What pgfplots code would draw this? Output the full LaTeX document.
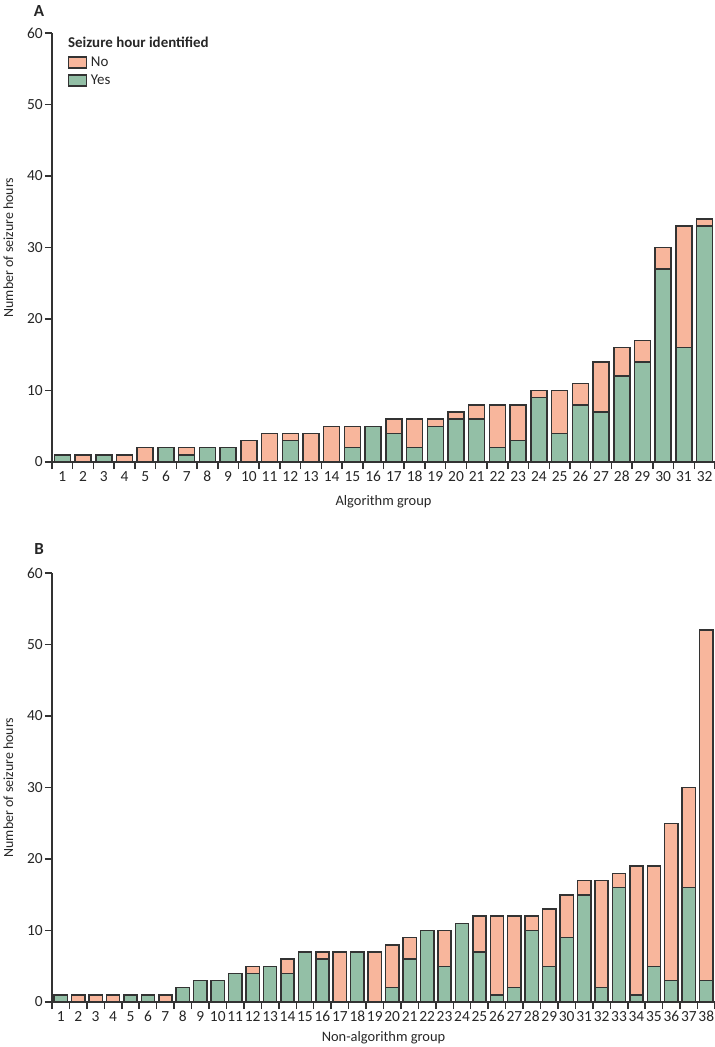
\documentclass[border=0pt]{standalone}
\usepackage{fontspec}
\setmainfont{Carlito}
\usepackage{pgfplots}
\pgfplotsset{compat=1.18}
\usepackage{pgfplotstable}
\definecolor{nocol}{HTML}{F8B69C}
\definecolor{yescol}{HTML}{93BFA6}
\definecolor{edge}{HTML}{333333}

\pgfplotstableread{
x yes no
1 1 0
2 0 1
3 1 0
4 0 1
5 0 2
6 2 0
7 1 1
8 2 0
9 2 0
10 0 3
11 0 4
12 3 1
13 0 4
14 0 5
15 2 3
16 5 0
17 4 2
18 2 4
19 5 1
20 6 1
21 6 2
22 2 6
23 3 5
24 9 1
25 4 6
26 8 3
27 7 7
28 12 4
29 14 3
30 27 3
31 16 17
32 33 1
}\dataA

\pgfplotstableread{
x yes no
1 1 0
2 0 1
3 0 1
4 0 1
5 1 0
6 1 0
7 0 1
8 2 0
9 3 0
10 3 0
11 4 0
12 4 1
13 5 0
14 4 2
15 7 0
16 6 1
17 0 7
18 7 0
19 0 7
20 2 6
21 6 3
22 10 0
23 5 5
24 11 0
25 7 5
26 1 11
27 2 10
28 10 2
29 5 8
30 9 6
31 15 2
32 2 15
33 16 2
34 1 18
35 5 14
36 3 22
37 16 14
38 3 49
}\dataB

\pgfplotsset{
  panel/.style={
    scale only axis, width=663bp, height=429bp,
    ymin=0, ymax=60, ytick={0,10,...,60},
    axis lines*=left,
    axis line style={edge, line width=2bp},
    tick style={edge, line width=1.5bp},
    tick align=outside, major tick length=7bp,
    ybar stacked,
    /pgf/number format/assume math mode=true,
    ticklabel style={font=\fontsize{15.5}{15.5}\selectfont, text=black!85},
    xticklabel style={inner sep=0pt, yshift=-2bp},
    yticklabel style={inner sep=2bp},
    clip=false,
    xlabel style={at={(axis description cs:0.5,0)}, anchor=center, font=\fontsize{14.5}{14.5}\selectfont, text=black!85},
    ylabel style={at={(axis description cs:-0.066,0.5)}, anchor=center, font=\fontsize{14}{14}\selectfont, text=black!85},
    ylabel={Number of seizure hours},
  },
  yesbar/.style={fill=yescol, draw=edge, line width=1.5bp},
  nobar/.style={fill=nocol, draw=edge, line width=1.5bp},
}

\begin{document}
\begin{tikzpicture}
\useasboundingbox (0,0) rectangle (715bp,-1047bp);

\node[font=\bfseries\fontsize{17}{17}\selectfont, text=black!85] at (39bp,-11bp) {A};
\node[font=\bfseries\fontsize{17}{17}\selectfont, text=black!85] at (39bp,-549bp) {B};

\begin{axis}[panel,
  at={(52bp,-462bp)}, anchor=south west,
  xmin=0.5, xmax=32.5,
  bar width=16bp,
  xtick={0.5,1.5,...,31.5},
  xticklabels={1,2,3,4,5,6,7,8,9,10,11,12,13,14,15,16,17,18,19,20,21,22,23,24,25,26,27,28,29,30,31,32},
  xticklabel style={xshift=10.36bp},
  extra x ticks={32.5}, extra x tick labels={},
  xlabel={Algorithm group},
  xlabel style={yshift=-40bp},
  legend style={at={(0.024,0.947)}, anchor=north west, draw=none, fill=none,
    font=\fontsize{15}{15}\selectfont, row sep=5bp, inner sep=0pt, legend cell align=left,
    nodes={inner sep=1bp, text=black!85}},
]
\addplot[yesbar, forget plot] table[x=x, y=yes] {\dataA};
\addplot[nobar, forget plot] table[x=x, y=no] {\dataA};
\addlegendimage{legend image code/.code={\draw[fill=nocol, draw=edge, line width=1.3bp] (0bp,-5.5bp) rectangle (18bp,5.5bp); \path (21bp,0bp);}}
\addlegendentry{No}
\addlegendimage{legend image code/.code={\draw[fill=yescol, draw=edge, line width=1.3bp] (0bp,-5.5bp) rectangle (18bp,5.5bp); \path (21bp,0bp);}}
\addlegendentry{Yes}
\node[anchor=west, inner sep=0pt, font=\bfseries\fontsize{15}{15}\selectfont, text=black!85] at (rel axis cs:0.024,0.979) {Seizure hour identified};
\end{axis}

\begin{axis}[panel,
  at={(52bp,-1002bp)}, anchor=south west,
  xmin=0.5, xmax=38.5,
  bar width=13.3bp,
  xtick={0.5,1.5,...,37.5},
  xticklabels={1,2,3,4,5,6,7,8,9,10,11,12,13,14,15,16,17,18,19,20,21,22,23,24,25,26,27,28,29,30,31,32,33,34,35,36,37,38},
  xticklabel style={xshift=8.72bp},
  extra x ticks={38.5}, extra x tick labels={},
  xlabel={Non-algorithm group},
  xlabel style={yshift=-36bp},
]
\addplot[yesbar] table[x=x, y=yes] {\dataB};
\addplot[nobar] table[x=x, y=no] {\dataB};
\end{axis}
\end{tikzpicture}
\end{document}
